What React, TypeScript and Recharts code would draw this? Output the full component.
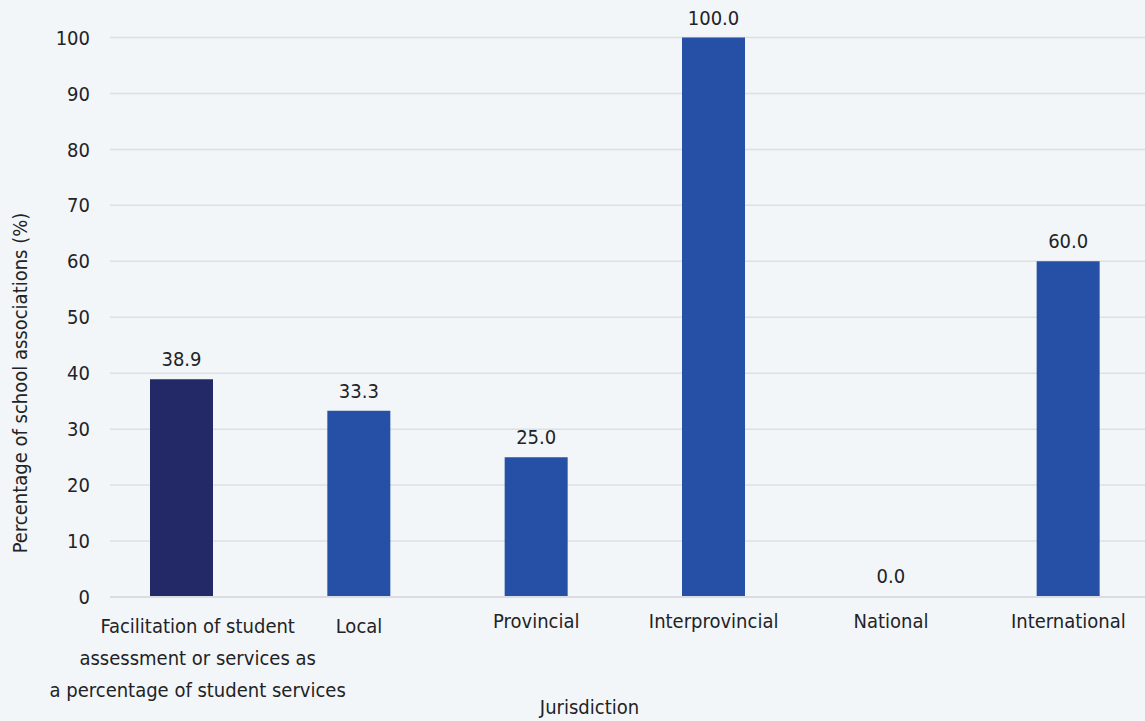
import React from 'react';
import { BarChart, Bar, XAxis, YAxis, CartesianGrid, Cell, LabelList, Label } from 'recharts';

const categories = [
  'Facilitation of student\nassessment or services as\na percentage of student services',
  'Local',
  'Provincial',
  'Interprovincial',
  'National',
  'International',
];
const shares = [38.9, 33.3, 25.0, 100.0, 0.0, 60.0];
const yTicks = [0, 10, 20, 30, 40, 50, 60, 70, 80, 90, 100];

const data = categories.map((name, i) => ({ name, value: shares[i] }));

const FONT = "'Liberation Sans Narrow', 'DejaVu Sans Condensed', 'Roboto', sans-serif";
const TEXT = '#222326';
const NAVY = '#232966';
const BLUE = '#2550a5';
const BG = '#f3f6f9';

// the first two ticks sit a little lower and the long one is pushed right
const tickShift = [
  { dx: 16, dy: 5 },
  { dx: 0, dy: 5 },
];

const CategoryTick = (props: any) => {
  const { x, y, payload, index } = props;
  const s = tickShift[index] || { dx: 0, dy: 0 };
  const lines = String(payload.value).split('\n');
  return (
    <text x={x + s.dx} y={y + s.dy} textAnchor="middle" fill={TEXT} fontSize={20} fontFamily={FONT}>
      {lines.map((l, i) => (
        <tspan key={i} x={x + s.dx} dy={i === 0 ? 0 : 32}>{l}</tspan>
      ))}
    </text>
  );
};

const ValueLabel = (props: any) => {
  const { x, y, width, value } = props;
  return (
    <text x={x + width / 2} y={y - 13} textAnchor="middle" fill={TEXT} fontSize={20} fontFamily={FONT}>
      {Number(value).toFixed(1)}
    </text>
  );
};

export default function App() {
  return (
    <div style={{ position: 'fixed', left: 0, top: 0, width: 1145, height: 721, background: BG }}>
      <BarChart
        width={1145}
        height={721}
        data={data}
        margin={{ top: 37.5, right: 0, left: 0, bottom: 24 }}
      >
        <CartesianGrid vertical={false} stroke="#dcdfe3" strokeWidth={1.5} />
        <XAxis
          dataKey="name"
          interval={0}
          height={100}
          tickLine={false}
          axisLine={{ stroke: '#d9dce0', strokeWidth: 2 }}
          padding={{ left: -17, right: -12 }}
          tick={<CategoryTick />}
          tickSize={0}
          tickMargin={31}
        >
          <Label
            content={(p: any) => (
              <text
                x={p.viewBox.x + p.viewBox.width / 2 - 38}
                y={p.viewBox.y + 117}
                textAnchor="middle"
                fill={TEXT}
                fontSize={20}
                fontFamily={FONT}
              >
                Jurisdiction
              </text>
            )}
          />
        </XAxis>
        <YAxis
          width={110}
          domain={[0, 100]}
          ticks={yTicks}
          axisLine={false}
          tickLine={false}
          tickSize={0}
          tickMargin={20}
          tick={{ fill: TEXT, fontSize: 20, fontFamily: FONT }}
        >
          <Label
            content={() => (
              <text
                x={0}
                y={0}
                transform="translate(27, 383) rotate(-90)"
                textAnchor="middle"
                fill={TEXT}
                fontSize={20}
                fontFamily={FONT}
              >
                Percentage of school associations (%)
              </text>
            )}
          />
        </YAxis>
        <Bar dataKey="value" barSize={63} minPointSize={1} isAnimationActive={false}>
          {data.map((d, i) => (
            <Cell key={d.name} fill={d.value === 0 ? 'none' : i === 0 ? NAVY : BLUE} />
          ))}
          <LabelList dataKey="value" content={<ValueLabel />} />
        </Bar>
      </BarChart>
    </div>
  );
}
